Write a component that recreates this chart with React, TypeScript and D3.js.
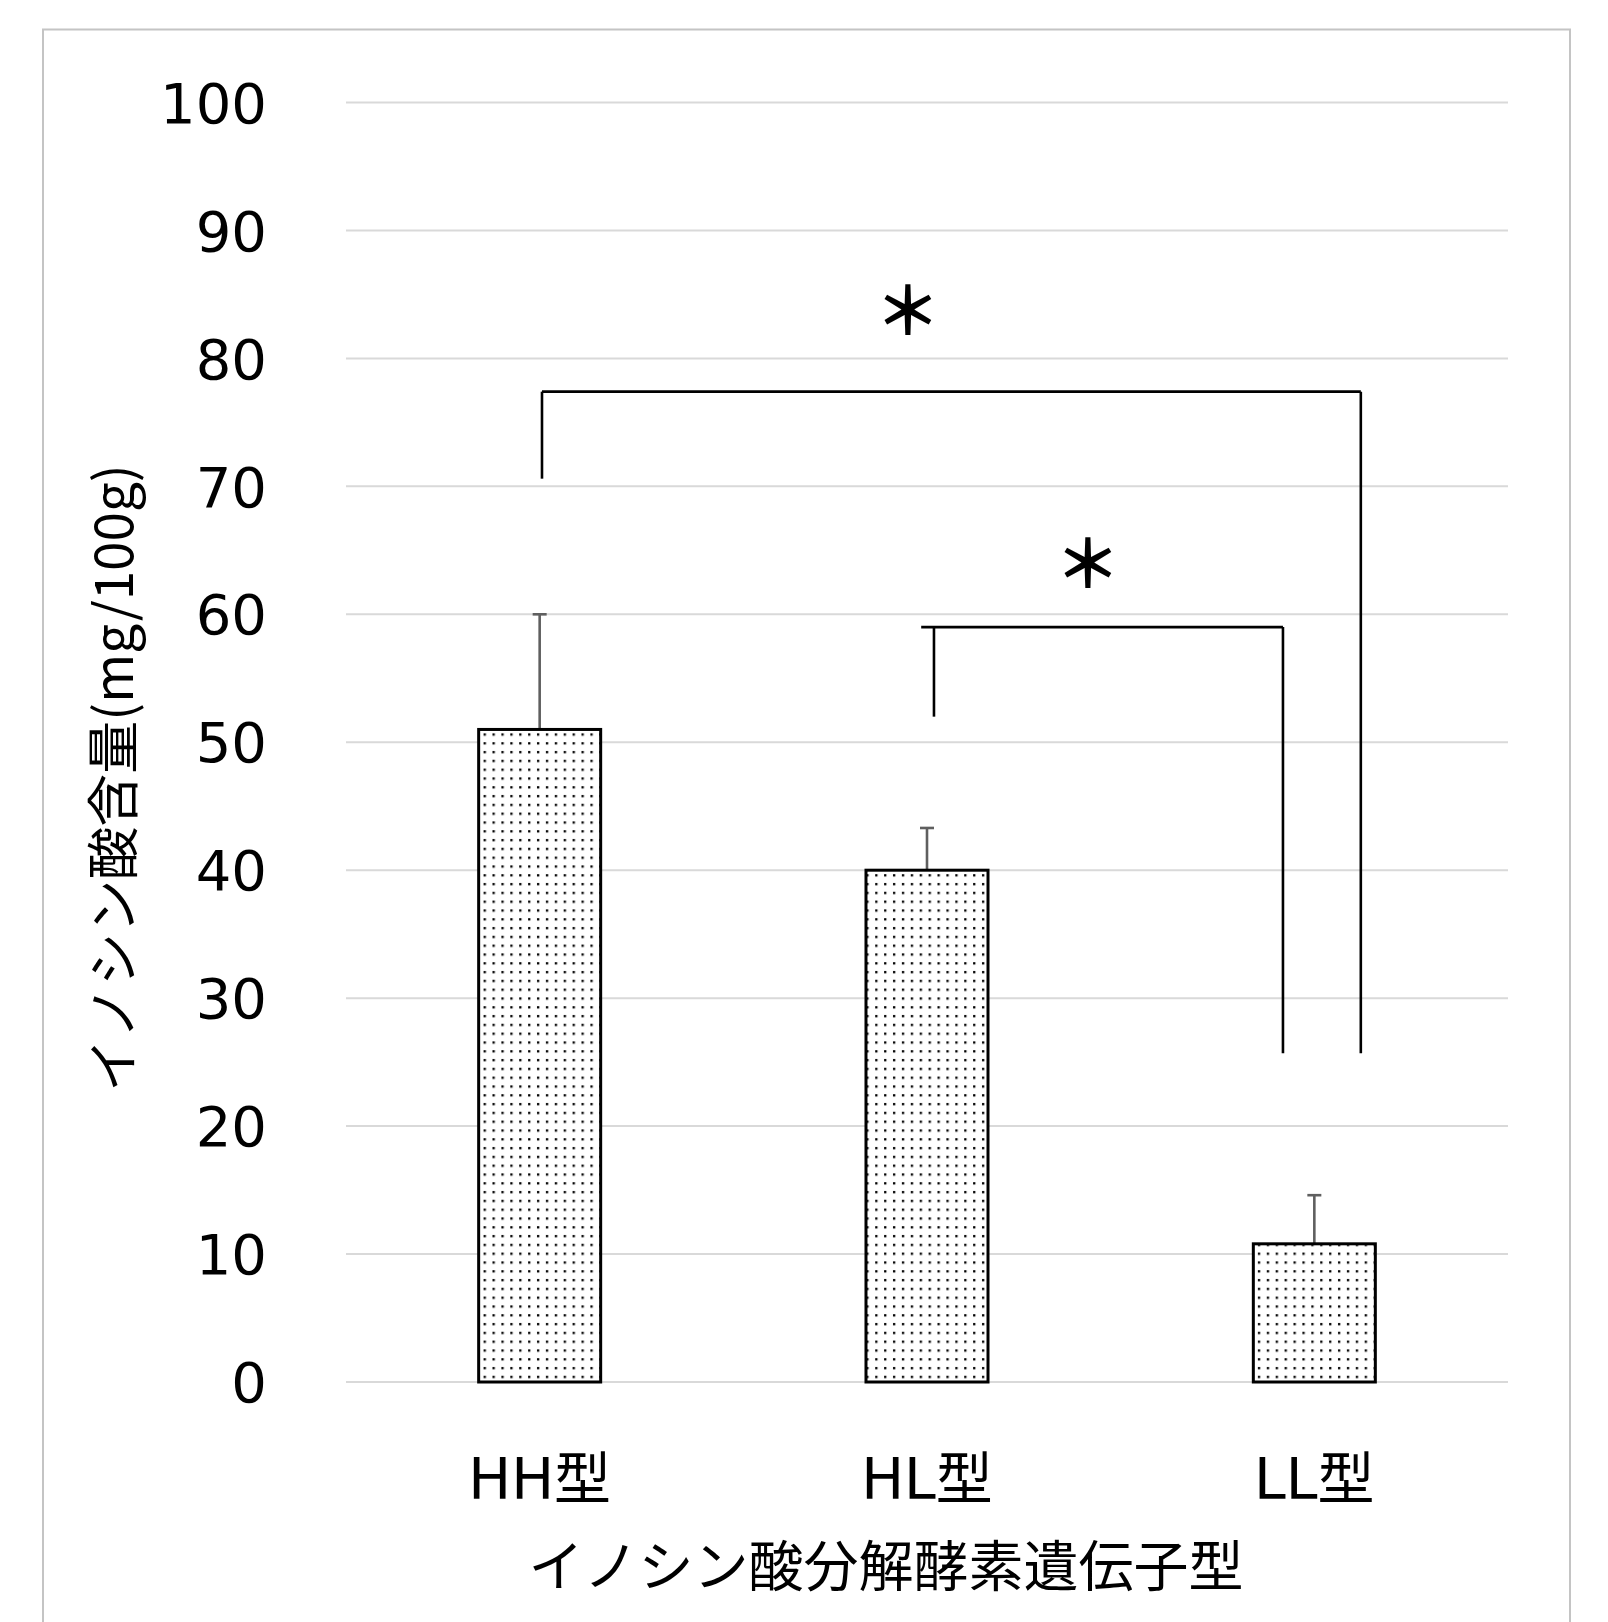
import React from 'react';
import * as d3 from 'd3';

// values
const genotypes = ['HH型', 'HL型', 'LL型'];
const inosinicAcid = [51.0, 40.0, 10.8];
const errorUp = [9.0, 3.3, 3.8];
const yTicks = [0, 10, 20, 30, 40, 50, 60, 70, 80, 90, 100];

// significance brackets: x in category units (0 = HH, 1 = HL, 2 = LL), y in mg/100g
const brackets = [
  { leftX: 0.006, lineStartX: 0.006, rightX: 2.12, top: 77.4, leftBottom: 70.6, rightBottom: 25.7 },
  { leftX: 1.018, lineStartX: 0.985, rightX: 1.919, top: 59.0, leftBottom: 52.0, rightBottom: 25.7 },
];
const stars = [
  { x: 0.95, y: 83.8 },
  { x: 1.415, y: 64.0 },
];

const W = 1608;
const H = 1622;
const plot = { left: 346, right: 1508, top: 102.5, bottom: 1382 };
const latin = '"DejaVu Sans", "Noto Sans CJK JP", sans-serif';
const cjk = '"Noto Sans CJK JP", "DejaVu Sans", sans-serif';

export default function App() {
  const x = d3.scaleBand<string>()
    .domain(genotypes)
    .range([plot.left, plot.right])
    .paddingInner(0.685)
    .paddingOuter(0.3425);

  const y = d3.scaleLinear().domain([0, 100]).range([plot.bottom, plot.top]);

  //  continuous position on the category axis
  const xAt = (v: number) => plot.left + x.step() * (v + 0.5);

  const bw = x.bandwidth();

  return (
    <svg width={W} height={H} style={{ position: 'absolute', left: 0, top: 0, background: '#fff' }}>
      <defs>
        <pattern id="dots" width={8.9} height={8.8} patternUnits="userSpaceOnUse">
          <rect x={3} y={3} width={2.3} height={2.3} fill="#000" />
        </pattern>
      </defs>

      <rect x={43} y={29.5} width={1527} height={1640} fill="#fff" stroke="#c4c4c4" strokeWidth={2} />

      {yTicks.map(t => (
        <g key={t}>
          <line x1={plot.left} x2={plot.right} y1={y(t)} y2={y(t)} stroke="#d9d9d9" strokeWidth={2} />
          <text x={267} y={y(t)} dy="0.36em" textAnchor="end" fontFamily={latin} fontSize={56} fill="#000">
            {t}
          </text>
        </g>
      ))}

      {genotypes.map((g, i) => {
        const cx = (x(g) as number) + bw / 2;
        return (
          <g key={g}>
            <line x1={cx} x2={cx} y1={y(inosinicAcid[i])} y2={y(inosinicAcid[i] + errorUp[i])} stroke="#5f5f5f" strokeWidth={2.6} />
            <line x1={cx - 7} x2={cx + 7} y1={y(inosinicAcid[i] + errorUp[i])} y2={y(inosinicAcid[i] + errorUp[i])} stroke="#5f5f5f" strokeWidth={2.6} />
            <rect
              x={x(g)}
              y={y(inosinicAcid[i])}
              width={bw}
              height={y(0) - y(inosinicAcid[i])}
              fill="#fff"
            />
            <rect
              x={x(g)}
              y={y(inosinicAcid[i])}
              width={bw}
              height={y(0) - y(inosinicAcid[i])}
              fill="url(#dots)"
              stroke="#000"
              strokeWidth={3}
            />
            <text x={cx} y={1499} textAnchor="middle" fontFamily={latin} fontSize={57} fill="#000">
              {g}
            </text>
          </g>
        );
      })}

      {brackets.map((b, i) => (
        <g key={i} fill="none" stroke="#000" strokeWidth={2.6}>
          <line x1={xAt(b.leftX)} x2={xAt(b.leftX)} y1={y(b.leftBottom)} y2={y(b.top)} />
          <line x1={xAt(b.lineStartX)} x2={xAt(b.rightX)} y1={y(b.top)} y2={y(b.top)} />
          <line x1={xAt(b.rightX)} x2={xAt(b.rightX)} y1={y(b.top)} y2={y(b.rightBottom)} />
        </g>
      ))}

      {stars.map((s, i) => (
        <text key={i} x={xAt(s.x)} y={y(s.y)} dy="0.375em" textAnchor="middle" fontFamily={cjk} fontWeight="bold" fontSize={66} fill="#000">
          ＊
        </text>
      ))}

      <text x={886} y={1586} textAnchor="middle" fontFamily={cjk} fontSize={55} fill="#000">
        イノシン酸分解酵素遺伝子型
      </text>

      <text
        transform="translate(114,778) rotate(-90)"
        dy="0.36em"
        textAnchor="middle"
        fontFamily={cjk}
        fontSize={53}
        fill="#000"
      >
        イノシン酸含量(mg/100g)
      </text>
    </svg>
  );
}
